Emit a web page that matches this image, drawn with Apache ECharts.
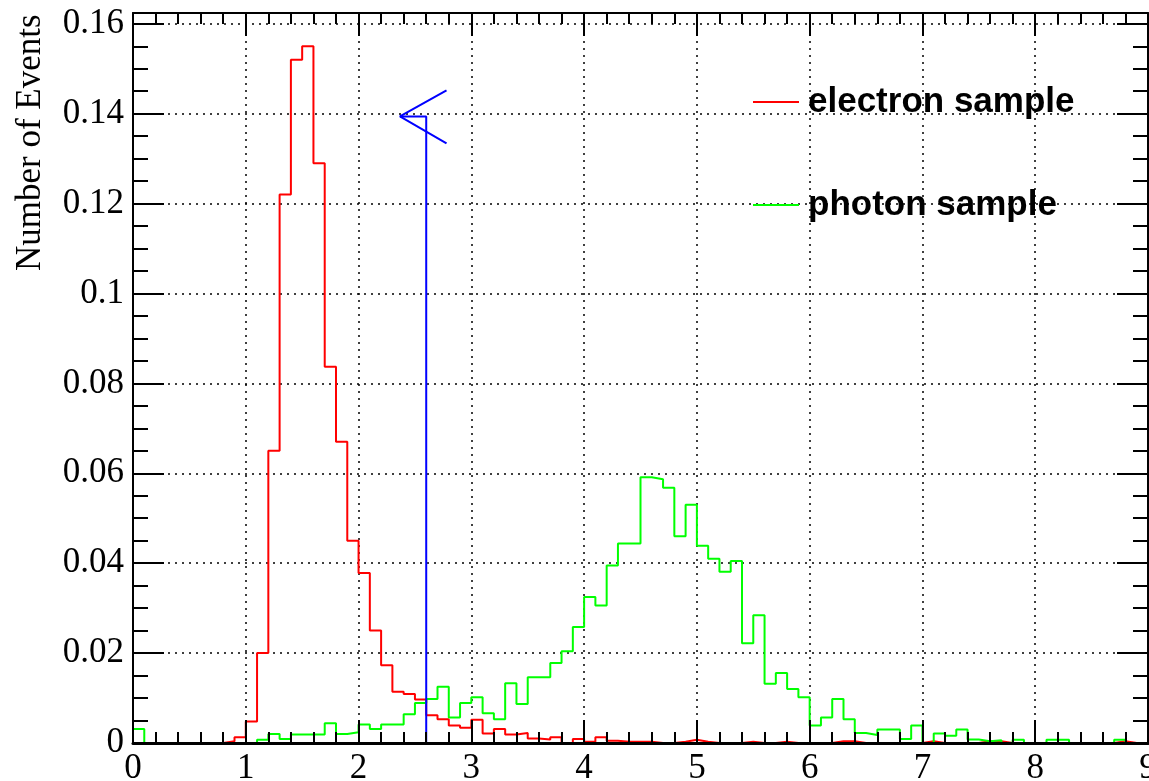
<!DOCTYPE html>
<html>
<head>
<meta charset="utf-8">
<title>electron / photon sample</title>
<script src="https://cdn.jsdelivr.net/npm/echarts@6/dist/echarts.min.js"></script>
<style>
  html, body { margin: 0; padding: 0; background: #fff; }
  #main { width: 1149px; height: 781px; }
</style>
</head>
<body>
<div id="main"></div>
<script>
// histogram bins: 90 bins of width 0.1 from 0 to 9
var binWidth = 0.1
var electron = [
  0, 0, 0, 0, 0, 0, 0, 0, 0.0004, 0.0013,
  0.0048, 0.020, 0.065, 0.122, 0.152, 0.155, 0.129, 0.0837, 0.067, 0.045,
  0.0378, 0.025, 0.0173, 0.0114, 0.0109, 0.0097, 0.0062, 0.0053, 0.0039, 0.0034,
  0.0052, 0.0021, 0.0031, 0.0019, 0.0022, 0.0010, 0.0008, 0.0013, 0, 0.0009,
  0.0003, 0.0013, 0.0005, 0.0003, 0.0003, 0.0003, 0, 0, 0.0003, 0.0007,
  0.0003, 0, 0, 0, 0.0003, 0, 0, 0.0003, 0, 0,
  0, 0, 0.0004, 0.0004, 0, 0, 0, 0, 0, 0,
  0.0004, 0, 0, 0, 0, 0.0004, 0.0004, 0, 0, 0,
  0, 0, 0, 0, 0, 0, 0, 0.0004, 0, 0
]
var photon = [
  0.0031, 0, 0, 0, 0, 0, 0, 0, 0, 0,
  0, 0.0007, 0.0020, 0.0009, 0.0019, 0.0019, 0.0019, 0.0044, 0.0020, 0.0024,
  0.0041, 0.0031, 0.0041, 0.0041, 0.0064, 0.0089, 0.0098, 0.0125, 0.0057, 0.0089,
  0.0102, 0.0066, 0.0053, 0.0133, 0.0087, 0.0146, 0.0146, 0.0178, 0.0204, 0.0258,
  0.0325, 0.0306, 0.0395, 0.0444, 0.0444, 0.0591, 0.0587, 0.0568, 0.0460, 0.0530,
  0.0439, 0.0410, 0.0381, 0.0405, 0.0222, 0.0284, 0.0132, 0.0156, 0.0120, 0.0102,
  0.0039, 0.0057, 0.0098, 0.0053, 0.0022, 0.0018, 0.0030, 0.0030, 0.0009, 0.0039,
  0, 0.0021, 0.0016, 0.0030, 0.0008, 0.0004, 0.0006, 0, 0.0007, 0,
  0, 0.0007, 0.0007, 0, 0, 0, 0, 0.0007, 0, 0
]
// cut marker (vertical line + arrow)
var cutLine = [[2.6, 0], [2.6, 0.1394], [2.367, 0.1394]]
var cutArrow = [[2.78, 0.1452], [2.367, 0.1394], [2.78, 0.1334]]
var legendNames = ['electron sample', 'photon sample']

function histPoints(values) {
  var pts = []
  for (var i = 0; i < values.length; i++) {
    pts.push([i / 10, values[i]])
  }
  pts.push([values.length * binWidth, values[values.length - 1]])
  return pts
}

var black = '#000'
var serif = '"Liberation Serif", "DejaVu Serif", serif'

function xAxisOpt(pos, extra) {
  var o = {
    type: 'value', position: pos, min: 0, max: 9, interval: 1,
    axisLine: { show: true, onZero: false, lineStyle: { color: black, width: 2 } },
    axisTick: { show: true, inside: true, length: 23, lineStyle: { color: black, width: 2 } },
    minorTick: { show: true, splitNumber: 5, length: 11, lineStyle: { color: black, width: 2 } },
    axisLabel: { show: false },
    splitLine: { show: false }
  }
  return Object.assign(o, extra)
}

function yAxisOpt(pos, extra) {
  var o = {
    type: 'value', position: pos, min: 0, max: 0.1624, interval: 0.02,
    axisLine: { show: true, onZero: false, lineStyle: { color: black, width: 2 } },
    axisTick: { show: true, inside: true, length: 31, lineStyle: { color: black, width: 2 } },
    minorTick: { show: true, splitNumber: 4, length: 15, lineStyle: { color: black, width: 2 } },
    axisLabel: { show: false },
    splitLine: { show: false }
  }
  return Object.assign(o, extra)
}

var gridDots = { show: true, lineStyle: { color: black, width: 1.5, type: [2, 5] } }

var myChart = echarts.init(document.getElementById('main'))
myChart.setOption({
  animation: false,
  backgroundColor: '#fff',
  grid: { left: 133, right: 1, top: 13, bottom: 38, outerBoundsMode: 'none' },
  xAxis: [
    xAxisOpt('bottom', {
      z: 5,
      axisLine: { show: true, onZero: false, lineStyle: { color: black, width: 3 } },
      axisLabel: { show: true, color: black, fontFamily: serif, fontSize: 35, margin: 8 }
    }),
    xAxisOpt('top', { z: 0, splitLine: gridDots })
  ],
  yAxis: [
    yAxisOpt('left', {
      z: 5,
      axisLabel: { show: true, color: black, fontFamily: serif, fontSize: 35, margin: 9 }
    }),
    yAxisOpt('right', { z: 0, splitLine: gridDots })
  ],
  legend: {
    data: legendNames,
    orient: 'vertical',
    left: 753,
    top: 82,
    padding: 0,
    itemGap: 63,
    icon: 'rect',
    itemWidth: 46,
    itemHeight: 2,
    selectedMode: false,
    textStyle: {
      color: black,
      fontFamily: '"Liberation Sans", Arial, sans-serif',
      fontWeight: 'bold',
      fontSize: 35,
      lineHeight: 40,
      padding: [0, 0, 0, 4]
    }
  },
  graphic: [
    {
      type: 'text',
      x: 31,
      y: 271,
      rotation: Math.PI / 2,
      style: {
        text: 'Number of Events',
        fill: black,
        font: '35px ' + serif,
        align: 'left',
        verticalAlign: 'middle'
      }
    }
  ],
  series: [
    {
      name: legendNames[0],
      type: 'line',
      step: 'end',
      symbol: 'none',
      data: histPoints(electron),
      lineStyle: { color: '#ff0000', width: 2 },
      itemStyle: { color: '#ff0000' }
    },
    {
      name: legendNames[1],
      type: 'line',
      step: 'end',
      symbol: 'none',
      data: histPoints(photon),
      lineStyle: { color: '#00ff00', width: 2 },
      itemStyle: { color: '#00ff00' }
    },
    {
      name: 'cut',
      type: 'line',
      symbol: 'none',
      data: cutLine,
      lineStyle: { color: '#0000ff', width: 2 },
      z: 3
    },
    {
      name: 'cut arrow',
      type: 'line',
      symbol: 'none',
      data: cutArrow,
      lineStyle: { color: '#0000ff', width: 2 },
      z: 3
    }
  ]
})
</script>
</body>
</html>
